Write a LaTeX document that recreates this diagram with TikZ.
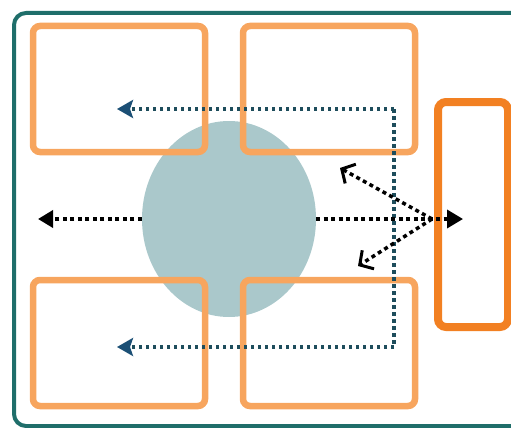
\documentclass[tikz,border=0pt]{standalone}
\usepackage{tikz}
\usetikzlibrary{arrows.meta,shapes.geometric}

\begin{document}
\begin{tikzpicture}[x=1pt, y=-1pt,
    zone/.style={draw=colZone, line width=6.5pt, rounded corners=7pt, minimum width=172pt, minimum height=126pt, inner sep=0pt},
    cible/.style={draw=colCible, line width=8pt, rounded corners=8pt, minimum width=70pt, minimum height=225pt, inner sep=0pt},
    noyau/.style={ellipse, fill=colNoyau, minimum width=174pt, minimum height=196pt, inner sep=0pt},
    noir/.style={black, line width=3.5pt, dash pattern=on 4pt off 3.5pt},
    flux/.style={draw=colFlux, line width=3.5pt, dash pattern=on 3.5pt off 3.5pt}]

        % Couleurs
        \definecolor{colCadre}{RGB}{31, 110, 106}
        \definecolor{colZone}{RGB}{247, 165, 94}
        \definecolor{colCible}{RGB}{242, 128, 34}
        \definecolor{colNoyau}{RGB}{170, 200, 203}
        \definecolor{colFlux}{RGB}{30, 77, 92}
        \definecolor{colPointe}{RGB}{27, 79, 117}

        \useasboundingbox (0,0) rectangle (511,428);

        % Cadre
        \begin{scope}
            \clip (0,0) rectangle (511,428);
            \draw[colCadre, line width=4pt, rounded corners=12pt] (14,13) rectangle (540,426);
        \end{scope}

        % Noyau central
        \node[noyau] (noyau) at (229,219) {};

        % Zones
        \node[zone] (hg) at (119,89) {};
        \node[zone] (hd) at (329,89) {};
        \node[zone] (bg) at (119,343) {};
        \node[zone] (bd) at (329,343) {};
        \node[cible] (cible) at (473,214.5) {};

        % Points
        \coordinate (gauche) at (38,219);
        \coordinate (droite) at (463,219);
        \coordinate (depart) at (432,219);
        \coordinate (haut) at (340,168);
        \coordinate (bas) at (358,266);
        \coordinate (coude) at (394,109);
        \coordinate (coin) at (394,347);
        \coordinate (pointeh) at (117,109);
        \coordinate (pointeb) at (117,347);

        % Flux bleu
        \draw[flux, -{Stealth[length=16pt, width=18pt, inset=3pt, color=colPointe]}] (coude) -- (pointeh);
        \draw[flux, -{Stealth[length=16pt, width=18pt, inset=3pt, color=colPointe]}] (coude) -- (coin) -- (pointeb);

        % Fleches noires
        \draw[noir, -{Triangle[length=15pt, width=17pt]}] (noyau.west) -- (gauche);
        \draw[noir, -{Triangle[length=16pt, width=18pt]}] (noyau.east) -- (droite);
        \draw[noir, -{Straight Barb[length=10pt, width=22pt, line width=3pt]}] (depart) -- (haut);
        \draw[noir, -{Straight Barb[length=10pt, width=22pt, line width=3pt]}] (depart) -- (bas);

    \end{tikzpicture}
\end{document}
